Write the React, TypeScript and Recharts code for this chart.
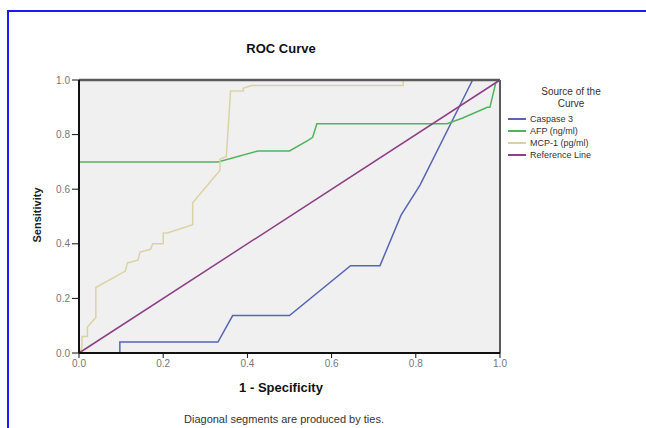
import { LineChart, Line, XAxis, YAxis, CartesianGrid, ReferenceLine } from 'recharts';

type Pt = { x: number; y: number };

// 1 - specificity / sensitivity pairs
const caspase3: Pt[] = [
  { x: 0, y: 0 }, { x: 0.097, y: 0 }, { x: 0.097, y: 0.04 }, { x: 0.33, y: 0.04 },
  { x: 0.365, y: 0.137 }, { x: 0.5, y: 0.137 }, { x: 0.645, y: 0.32 }, { x: 0.715, y: 0.32 },
  { x: 0.765, y: 0.505 }, { x: 0.81, y: 0.615 }, { x: 0.935, y: 1 }, { x: 1, y: 1 },
];

const afp: Pt[] = [
  { x: 0, y: 0.7 }, { x: 0.33, y: 0.7 }, { x: 0.425, y: 0.74 }, { x: 0.5, y: 0.74 },
  { x: 0.545, y: 0.78 }, { x: 0.555, y: 0.79 }, { x: 0.565, y: 0.84 }, { x: 0.874, y: 0.84 },
  { x: 0.91, y: 0.86 }, { x: 0.97, y: 0.9 }, { x: 0.976, y: 0.9 }, { x: 0.99, y: 0.99 }, { x: 1, y: 1 },
];

const mcp1: Pt[] = [
  { x: 0, y: 0 }, { x: 0.007, y: 0.02 }, { x: 0.007, y: 0.06 }, { x: 0.02, y: 0.06 },
  { x: 0.02, y: 0.095 }, { x: 0.04, y: 0.13 }, { x: 0.04, y: 0.24 }, { x: 0.11, y: 0.3 },
  { x: 0.115, y: 0.33 }, { x: 0.14, y: 0.34 }, { x: 0.145, y: 0.37 }, { x: 0.17, y: 0.38 },
  { x: 0.175, y: 0.4 }, { x: 0.2, y: 0.4 }, { x: 0.2, y: 0.44 }, { x: 0.21, y: 0.44 },
  { x: 0.27, y: 0.47 }, { x: 0.27, y: 0.55 }, { x: 0.33, y: 0.66 }, { x: 0.335, y: 0.67 },
  { x: 0.335, y: 0.71 }, { x: 0.35, y: 0.72 }, { x: 0.36, y: 0.96 }, { x: 0.39, y: 0.96 },
  { x: 0.39, y: 0.97 }, { x: 0.41, y: 0.98 }, { x: 0.77, y: 0.98 }, { x: 0.77, y: 1 }, { x: 1, y: 1 },
];

const referenceLine: Pt[] = [{ x: 0, y: 0 }, { x: 1, y: 1 }];

const ticks = [0, 0.2, 0.4, 0.6, 0.8, 1];

const series = [
  { name: 'Caspase 3', data: caspase3, color: '#5566b3' },
  { name: 'AFP (ng/ml)', data: afp, color: '#4fb45c' },
  { name: 'MCP-1 (pg/ml)', data: mcp1, color: '#d9d3a4' },
  { name: 'Reference Line', data: referenceLine, color: '#8e3f86' },
];

const font = '"Liberation Sans", Arial, sans-serif';

export default function App() {
  return (
    <div style={{ position: 'absolute', left: 0, top: 0, width: 646, height: 428, background: '#fff', overflow: 'hidden', fontFamily: font }}>
      <div style={{ position: 'absolute', left: 7, top: 10, width: 700, height: 500, border: '2px solid #1a1aff' }} />
      <div style={{ position: 'absolute', left: 181, width: 200, top: 41, textAlign: 'center', fontSize: 13, fontWeight: 'bold', color: '#111' }}>
        ROC Curve
      </div>
      <LineChart width={646} height={428} data={referenceLine} margin={{ top: 80, right: 146, bottom: 45, left: 49 }} style={{ position: 'absolute', left: 0, top: 0 }}>
        <CartesianGrid fill="#f0f0f0" horizontal={false} vertical={false} />
        <XAxis
          type="number"
          dataKey="x"
          domain={[0, 1]}
          ticks={ticks}
          tickFormatter={(v: number) => v.toFixed(1)}
          tickSize={5}
          height={30}
          axisLine={{ stroke: '#111', strokeWidth: 2 }}
          tickLine={{ stroke: '#111' }}
          tick={{ fontSize: 10, fill: '#777', fontFamily: font }}
        />
        <YAxis
          type="number"
          dataKey="y"
          domain={[0, 1]}
          ticks={ticks}
          tickFormatter={(v: number) => v.toFixed(1)}
          tickSize={7}
          width={30}
          axisLine={{ stroke: '#111', strokeWidth: 2 }}
          tickLine={{ stroke: '#111' }}
          tick={{ fontSize: 10, fill: '#777', fontFamily: font }}
        />
        {series.map((s) => (
          <Line
            key={s.name}
            data={s.data}
            dataKey="y"
            name={s.name}
            type="linear"
            stroke={s.color}
            strokeWidth={1.5}
            dot={false}
            isAnimationActive={false}
          />
        ))}
        <ReferenceLine y={1} stroke="#5a5a5a" strokeWidth={2.5} />
        <ReferenceLine x={1} stroke="#5a5a5a" strokeWidth={2} />
      </LineChart>
      <div style={{ position: 'absolute', left: 37, top: 215, transform: 'translate(-50%, -50%) rotate(-90deg)', transformOrigin: 'center', fontSize: 11, fontWeight: 'bold', color: '#222', whiteSpace: 'nowrap' }}>
        Sensitivity
      </div>
      <div style={{ position: 'absolute', left: 181, width: 200, top: 380, textAlign: 'center', fontSize: 13, fontWeight: 'bold', color: '#111' }}>
        1 - Specificity
      </div>
      <div style={{ position: 'absolute', left: 134, width: 300, top: 413, textAlign: 'center', fontSize: 11, color: '#333' }}>
        Diagonal segments are produced by ties.
      </div>
      <div style={{ position: 'absolute', left: 508, top: 86, width: 120, fontSize: 10, color: '#333' }}>
        <div style={{ textAlign: 'center', lineHeight: '12px', paddingLeft: 6 }}>
          Source of the
          <br />
          Curve
        </div>
        <div style={{ marginTop: 3 }}>
          {series.map((s) => (
            <div key={s.name} style={{ display: 'flex', alignItems: 'center', height: 12, fontSize: 9 }}>
              <span style={{ display: 'inline-block', width: 18, height: 1.5, background: s.color, marginRight: 4 }} />
              {s.name}
            </div>
          ))}
        </div>
      </div>
    </div>
  );
}
